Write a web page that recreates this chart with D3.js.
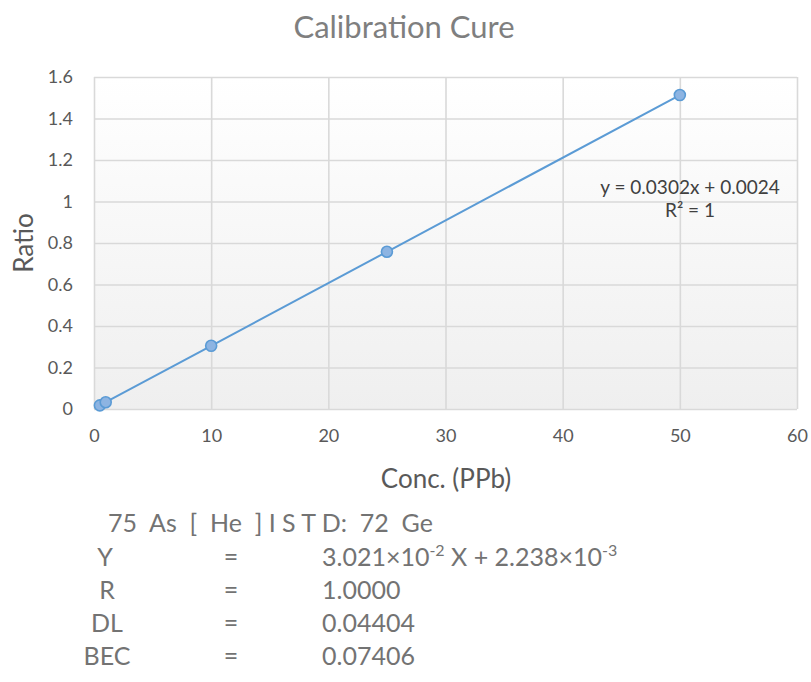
<!DOCTYPE html>
<html>
<head>
<meta charset="utf-8">
<script src="https://cdn.jsdelivr.net/npm/d3@7"></script>
<style>
  html, body { margin: 0; padding: 0; background: #fff; }
  svg { display: block; font-family: Lato, "Open Sans", sans-serif; }
</style>
</head>
<body>
<svg id="chart" width="811" height="682"></svg>
<script>
// Calibration standards: concentration (ppb) and intensity ratio
const conc = [0.5, 1, 10, 25, 50];
const ratio = [0.0175, 0.0326, 0.3045, 0.7577, 1.5129];
const xTicks = [0, 10, 20, 30, 40, 50, 60];
const yTicks = [0, 0.2, 0.4, 0.6, 0.8, 1, 1.2, 1.4, 1.6];
const fitLines = ["y = 0.0302x + 0.0024", "R² = 1"];
const reportLabels = ["Y", "R", "DL", "BEC"];
const reportValues = ["", "1.0000", "0.04404", "0.07406"];

const svg = d3.select("#chart");
const plot = { left: 94, right: 797, top: 77, bottom: 409 };

const x = d3.scaleLinear().domain([0, 60]).range([plot.left, plot.right]);
const y = d3.scaleLinear().domain([0, 1.6]).range([plot.bottom, plot.top]);

// plot-area shading: white at the top fading to light grey
const defs = svg.append("defs");
const grad = defs.append("linearGradient").attr("id", "bg")
  .attr("x1", 0).attr("y1", 0).attr("x2", 0).attr("y2", 1);
grad.append("stop").attr("offset", "0%").attr("stop-color", "#ffffff");
grad.append("stop").attr("offset", "100%").attr("stop-color", "#efefef");

svg.append("rect")
  .attr("x", plot.left).attr("y", plot.top)
  .attr("width", plot.right - plot.left).attr("height", plot.bottom - plot.top)
  .attr("fill", "url(#bg)");

// gridlines
const gridColor = "#d9d9d9";
svg.append("g").attr("transform", `translate(0,${plot.bottom})`)
  .call(d3.axisBottom(x).tickValues(xTicks).tickSize(-(plot.bottom - plot.top)).tickFormat(""))
  .call(g => g.select(".domain").remove())
  .call(g => g.selectAll("line").attr("stroke", gridColor).attr("stroke-width", 1.6));
svg.append("g").attr("transform", `translate(${plot.left},0)`)
  .call(d3.axisLeft(y).tickValues(yTicks).tickSize(-(plot.right - plot.left)).tickFormat(""))
  .call(g => g.select(".domain").remove())
  .call(g => g.selectAll("line").attr("stroke", gridColor).attr("stroke-width", 1.6));

// tick labels
const tickColor = "#595959";
const xAxis = svg.append("g").attr("transform", `translate(0,${plot.bottom})`)
  .call(d3.axisBottom(x).tickValues(xTicks).tickSize(0).tickPadding(20).tickFormat(d3.format("d")));
xAxis.select(".domain").remove();
xAxis.selectAll("text").attr("fill", tickColor).attr("font-size", 18)
  .attr("font-family", "Lato, sans-serif");

const yAxis = svg.append("g").attr("transform", `translate(${plot.left},0)`)
  .call(d3.axisLeft(y).tickValues(yTicks).tickSize(0).tickPadding(21).tickFormat(d => String(d)));
yAxis.select(".domain").remove();
yAxis.selectAll("text").attr("fill", tickColor).attr("font-size", 18)
  .attr("font-family", "Lato, sans-serif");

// titles
svg.append("text").attr("x", 404).attr("y", 38).attr("text-anchor", "middle")
  .attr("font-size", 31).attr("fill", "#7f7f7f").text("Calibration Cure");
svg.append("text").attr("x", 446).attr("y", 488).attr("text-anchor", "middle")
  .attr("font-size", 26).attr("fill", tickColor).text("Conc. (PPb)");
svg.append("text").attr("transform", "translate(33,243) rotate(-90)")
  .attr("text-anchor", "middle").attr("font-size", 26).attr("fill", tickColor).text("Ratio");

// calibration line through the standards
const seriesColor = "#5b9bd5";
const pts = conc.map((c, i) => [c, ratio[i]]);
svg.append("path").datum(pts)
  .attr("fill", "none").attr("stroke", seriesColor).attr("stroke-width", 2)
  .attr("d", d3.line().x(d => x(d[0])).y(d => y(d[1])));

svg.append("g").selectAll("circle").data(pts).join("circle")
  .attr("cx", d => x(d[0])).attr("cy", d => y(d[1])).attr("r", 5.5)
  .attr("fill", "#8db4e2").attr("stroke", seriesColor).attr("stroke-width", 1.6);

// trendline equation
svg.append("g").selectAll("text").data(fitLines).join("text")
  .attr("x", 690).attr("y", (d, i) => 194 + i * 23)
  .attr("text-anchor", "middle").attr("font-size", 19).attr("fill", "#404040")
  .text(d => d);

// instrument report block
const rep = svg.append("g").attr("font-size", 25).attr("fill", "#737373");
rep.append("text").attr("x", 108).attr("y", 532).attr("xml:space", "preserve")
  .text("75  As  [  He  ] I S T D:  72  Ge");

const rowY = [566, 599, 632, 665];
const labelX = [105, 107, 107, 107];
rep.selectAll(".lbl").data(reportLabels).join("text").attr("class", "lbl")
  .attr("x", (d, i) => labelX[i]).attr("y", (d, i) => rowY[i])
  .attr("text-anchor", "middle").text(d => d);
rep.selectAll(".eq").data(reportLabels).join("text").attr("class", "eq")
  .attr("x", 231).attr("y", (d, i) => rowY[i]).attr("text-anchor", "middle").text("=");
rep.selectAll(".val").data(reportValues).join("text").attr("class", "val")
  .attr("x", 322).attr("y", (d, i) => rowY[i]).text(d => d);

// fitted equation with superscript exponents
const eqText = rep.append("text").attr("x", 322).attr("y", rowY[0]);
eqText.append("tspan").text("3.021×10");
eqText.append("tspan").attr("dy", -10).attr("font-size", 16).text("-2");
eqText.append("tspan").attr("dy", 10).text(" X + 2.238×10");
eqText.append("tspan").attr("dy", -10).attr("font-size", 16).text("-3");
</script>
</body>
</html>
